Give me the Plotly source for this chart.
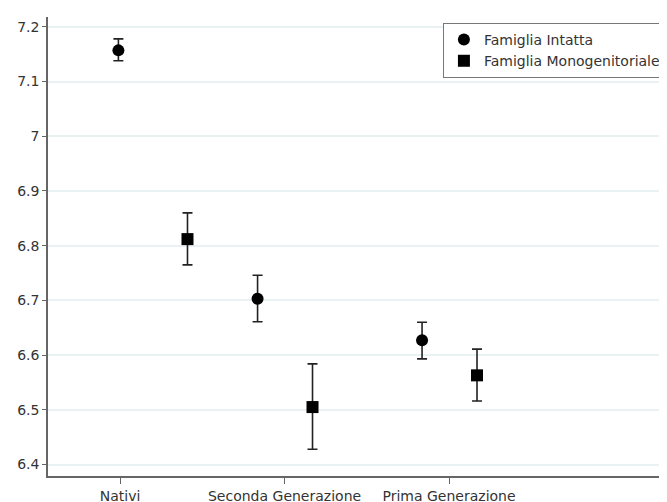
import plotly.graph_objects as go

categories = ["Nativi", "Seconda Generazione", "Prima Generazione"]
cat_pos = [1, 2, 3]

# Famiglia Intatta
intatta_x = [0.99, 1.836, 2.836]
intatta_y = [7.157, 6.703, 6.627]
intatta_hi = [7.178, 6.746, 6.660]
intatta_lo = [7.138, 6.661, 6.593]

# Famiglia Monogenitoriale
mono_x = [1.41, 2.17, 3.17]
mono_y = [6.812, 6.505, 6.563]
mono_hi = [6.860, 6.584, 6.611]
mono_lo = [6.765, 6.428, 6.516]

y_ticks = [6.4, 6.5, 6.6, 6.7, 6.8, 6.9, 7.0, 7.1, 7.2]
y_tick_text = ["6.4", "6.5", "6.6", "6.7", "6.8", "6.9", "7", "7.1", "7.2"]

def errs(y, hi, lo):
    return [h - v for v, h in zip(y, hi)], [v - l for v, l in zip(y, lo)]

fig = go.Figure()
for name, xs, ys, hi, lo, sym in [
    ("Famiglia Intatta", intatta_x, intatta_y, intatta_hi, intatta_lo, "circle"),
    ("Famiglia Monogenitoriale", mono_x, mono_y, mono_hi, mono_lo, "square"),
]:
    up, dn = errs(ys, hi, lo)
    fig.add_trace(go.Scatter(
        x=xs, y=ys, mode="markers", name=name,
        marker=dict(symbol=sym, size=12, color="black"),
        error_y=dict(type="data", symmetric=False, array=up, arrayminus=dn,
                     color="#222", thickness=1.6, width=5),
    ))

fig.update_layout(
    width=659, height=494,
    margin=dict(l=40, r=0, t=9, b=26, autoexpand=False),
    plot_bgcolor="white", paper_bgcolor="white",
    font=dict(family="DejaVu Sans, sans-serif", size=14, color="#333"),
    showlegend=True,
    legend=dict(x=0.638, y=0.987, xanchor="left", yanchor="top",
                bordercolor="#777", borderwidth=1, bgcolor="white",
                font=dict(size=14, color="#333"), itemwidth=30,
                tracegroupgap=0),
    xaxis=dict(range=[0.562, 4.325], tickvals=cat_pos, ticktext=categories,
               showgrid=False, zeroline=False, showline=True, linecolor="#666",
               linewidth=1.5, ticks="outside", ticklen=6, tickcolor="#666",
               automargin=False),
    yaxis=dict(range=[6.379, 7.218], tickvals=y_ticks, ticktext=y_tick_text,
               showgrid=True, gridcolor="#eaf1f3", gridwidth=1.5, zeroline=False,
               showline=True, linecolor="#666", linewidth=1.5,
               ticks="outside", ticklen=4, tickcolor="#666", automargin=False),
)

fig.write_html("out.html")
